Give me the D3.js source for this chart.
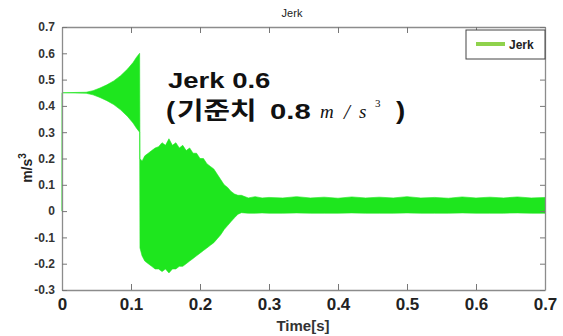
<!DOCTYPE html>
<html>
<head>
<meta charset="utf-8">
<script src="https://cdn.jsdelivr.net/npm/d3@7"></script>
<style>
  body { margin: 0; background: #fff; }
  svg { display: block; }
</style>
</head>
<body>
<svg id="chart" width="563" height="336"></svg>
<script>
// envelope of the jerk signal (upper / lower)
var t_pre = [0, 0.0005, 0.035, 0.045, 0.055, 0.065, 0.075, 0.085, 0.095, 0.103, 0.108, 0.1125];
var up_pre = [0.45, 0.45, 0.452, 0.458, 0.468, 0.48, 0.495, 0.515, 0.54, 0.565, 0.585, 0.6];
var lo_pre = [0, 0.45, 0.448, 0.442, 0.432, 0.42, 0.405, 0.385, 0.36, 0.335, 0.315, 0.3];

var t_mid = [0.113, 0.116, 0.12, 0.125, 0.13, 0.135, 0.14, 0.145, 0.15, 0.155, 0.16, 0.165, 0.17, 0.175, 0.18, 0.185, 0.19, 0.195, 0.2, 0.205, 0.21, 0.215, 0.22, 0.225, 0.23, 0.235, 0.24, 0.245, 0.25, 0.255];
var up_mid = [0.2, 0.19, 0.21, 0.22, 0.23, 0.24, 0.245, 0.26, 0.25, 0.275, 0.25, 0.26, 0.24, 0.25, 0.23, 0.24, 0.22, 0.22, 0.2, 0.2, 0.18, 0.17, 0.16, 0.14, 0.12, 0.1, 0.09, 0.075, 0.065, 0.06];
var lo_mid = [-0.14, -0.17, -0.19, -0.2, -0.21, -0.22, -0.22, -0.23, -0.22, -0.235, -0.22, -0.22, -0.21, -0.21, -0.2, -0.19, -0.18, -0.17, -0.16, -0.15, -0.14, -0.13, -0.12, -0.105, -0.09, -0.07, -0.055, -0.04, -0.025, -0.012];

var t_post = [0.26, 0.27, 0.28, 0.29, 0.3, 0.32, 0.34, 0.36, 0.38, 0.4, 0.42, 0.44, 0.46, 0.48, 0.5, 0.52, 0.54, 0.56, 0.58, 0.6, 0.62, 0.64, 0.66, 0.68, 0.7];
var up_post = [0.06, 0.05, 0.055, 0.05, 0.052, 0.05, 0.055, 0.05, 0.053, 0.049, 0.054, 0.05, 0.053, 0.05, 0.055, 0.05, 0.052, 0.049, 0.054, 0.05, 0.053, 0.05, 0.054, 0.05, 0.052];
var lo_post = [-0.006, -0.008, -0.008, -0.007, -0.008, -0.008, -0.007, -0.008, -0.008, -0.008, -0.007, -0.008, -0.008, -0.008, -0.007, -0.008, -0.008, -0.008, -0.007, -0.008, -0.008, -0.008, -0.007, -0.008, -0.008];

var x_ticks = [0, 0.1, 0.2, 0.3, 0.4, 0.5, 0.6, 0.7];
var x_tick_labels = ['0', '0.1', '0.2', '0.3', '0.4', '0.5', '0.6', '0.7'];
var y_ticks = [0.7, 0.6, 0.5, 0.4, 0.3, 0.2, 0.1, 0, -0.1, -0.2, -0.3];
var y_tick_labels = ['0.7', '0.6', '0.5', '0.4', '0.3', '0.2', '0.1', '0', '-0.1', '-0.2', '-0.3'];

var svg = d3.select('#chart');

var x = d3.scaleLinear().domain([0, 0.7]).range([62, 545]);
var y = d3.scaleLinear().domain([-0.3, 0.7]).range([290, 27]);

var build = function(ts, ups, los) {
    return ts.map(function(t, i) { return {t: t, up: ups[i], lo: los[i]}; });
};
var signal = build(t_pre, up_pre, lo_pre)
    .concat(build(t_mid, up_mid, lo_mid))
    .concat(build(t_post, up_post, lo_post));

var area = d3.area()
    .x(function(d) { return x(d.t); })
    .y0(function(d) { return y(d.lo); })
    .y1(function(d) { return y(d.up); });

svg.append('path')
    .datum(signal)
    .attr('d', area)
    .style('fill', '#1ee61e')
    .style('stroke', '#1ee61e')
    .style('stroke-width', 0.6);

// axes (inward ticks, matlab style)
var fmtX = function(d, i) { return x_tick_labels[i]; };
var fmtY = function(d, i) { return y_tick_labels[i]; };

var gB = svg.append('g').attr('transform', 'translate(0,290)')
    .call(d3.axisBottom(x).tickValues(x_ticks).tickFormat(fmtX).tickSizeInner(-6).tickSizeOuter(0).tickPadding(8));
var gT = svg.append('g').attr('transform', 'translate(0,27)')
    .call(d3.axisTop(x).tickValues(x_ticks).tickFormat('').tickSizeInner(-6).tickSizeOuter(0));
var gL = svg.append('g').attr('transform', 'translate(62,0)')
    .call(d3.axisLeft(y).tickValues(y_ticks).tickFormat(fmtY).tickSizeInner(-5).tickSizeOuter(0).tickPadding(7));
var gR = svg.append('g').attr('transform', 'translate(545,0)')
    .call(d3.axisRight(y).tickValues(y_ticks).tickFormat('').tickSizeInner(-5).tickSizeOuter(0));

[gB, gT, gL, gR].forEach(function(g) {
    g.select('.domain').style('stroke', '#8c8c8c').style('stroke-width', 1.3);
    g.selectAll('.tick line').style('stroke', '#777');
});
gB.selectAll('.tick text')
    .style('font-family', 'Liberation Sans, Arial, sans-serif')
    .style('font-weight', 'bold').style('font-size', '17px').style('fill', '#222');
gL.selectAll('.tick text')
    .style('font-family', 'Liberation Sans, Arial, sans-serif')
    .style('font-weight', 'bold').style('font-size', '12px').style('fill', '#333');

// title + axis labels
svg.append('text').attr('x', 292).attr('y', 17).attr('text-anchor', 'middle')
    .style('font-family', 'Liberation Sans, Arial, sans-serif').style('font-size', '11px')
    .style('fill', '#222').text('Jerk');

svg.append('text').attr('x', 303).attr('y', 331).attr('text-anchor', 'middle')
    .style('font-family', 'Liberation Sans, Arial, sans-serif').style('font-size', '15px')
    .style('font-weight', 'bold').style('fill', '#333').text('Time[s]');

var ylab = svg.append('text').attr('transform', 'translate(32,168) rotate(-90)')
    .attr('text-anchor', 'middle')
    .style('font-family', 'Liberation Sans, Arial, sans-serif').style('font-size', '14px')
    .style('font-weight', 'bold').style('fill', '#222');
ylab.append('tspan').text('m/s');
ylab.append('tspan').attr('dy', -6).style('font-size', '10px').text('3');

// legend
var leg = svg.append('g');
leg.append('rect').attr('x', 466).attr('y', 30).attr('width', 79).attr('height', 29)
    .style('fill', '#fff').style('stroke', '#444').style('stroke-width', 1);
leg.append('line').attr('x1', 476).attr('x2', 505).attr('y1', 44).attr('y2', 44)
    .style('stroke', '#8fd24c').style('stroke-width', 4);
leg.append('text').attr('x', 509).attr('y', 49)
    .style('font-family', 'Liberation Sans, Arial, sans-serif').style('font-size', '12px')
    .style('font-weight', 'bold').style('fill', '#222').text('Jerk');

// annotation (the original text is stretched sideways)
var note = function(txt, nx, ny, size, sx, family) {
    svg.append('text')
        .attr('transform', 'translate(' + nx + ',' + ny + ') scale(' + sx + ',1)')
        .style('font-family', family || 'Liberation Sans, Arial, sans-serif')
        .style('font-size', size + 'px').style('font-weight', 'bold')
        .style('fill', '#111').text(txt);
};
note('Jerk 0.6', 168, 88, 22, 1.25);
note('(', 166, 119, 23, 1.2);
note('기준치', 177, 119, 24, 1.2, '"Noto Sans CJK KR", sans-serif');
note('0.8', 270, 119, 22, 1.33);
note(')', 396, 119, 23, 1.2);

var unit = function(txt, ux, uy, size, italic) {
    svg.append('text').attr('x', ux).attr('y', uy)
        .style('font-family', 'Liberation Serif, serif')
        .style('font-style', italic ? 'italic' : 'normal')
        .style('font-size', size + 'px').style('fill', '#111').text(txt);
};
unit('m', 320, 118, 19, true);
unit('/', 344, 119, 21, true);
unit('s', 359, 118, 19, true);
unit('3', 375, 107, 11, false);
</script>
</body>
</html>
